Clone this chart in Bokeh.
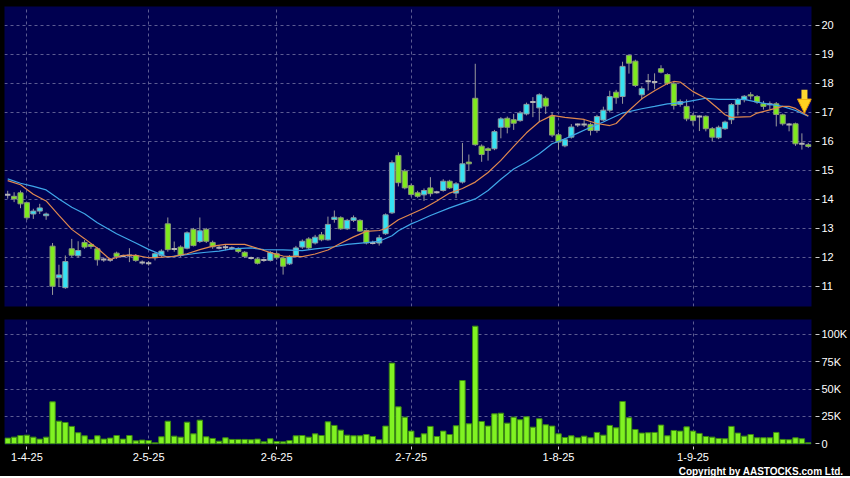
import numpy as np
from bokeh.plotting import figure
from bokeh.layouts import column
from bokeh.models import FixedTicker, Title, Arrow, NormalHead, Range1d
from bokeh.embed import file_html
from bokeh.resources import INLINE

# ---------------- data ----------------
month_ticks = [3, 22, 42, 63, 86, 107]
month_labels = ["1-4-25", "2-5-25", "2-6-25", "2-7-25", "1-8-25", "1-9-25"]
price_ticks = [11, 12, 13, 14, 15, 16, 17, 18, 19, 20]
vol_ticks = [0, 25, 50, 75, 100]
vol_tick_labels = ["0", "25K", "50K", "75K", "100K"]

opens = [14.16, 14.11, 14.23, 13.89, 13.50, 13.60, 13.44, 12.39, 11.30, 10.96,
         12.30, 12.06, 12.52, 12.45, 12.30, 11.93, 11.92, 12.15, 12.05, 12.07,
         12.07, 11.83, 11.80, 11.99, 12.07, 13.16, 12.29, 12.36, 12.32, 12.97,
         12.55, 12.97, 12.52, 12.34, 12.35, 12.32, 12.29, 12.18, 11.98, 11.95,
         11.91, 11.90, 12.13, 11.98, 11.78, 12.06, 12.36, 12.64, 12.50, 12.78,
         12.61, 13.31, 13.37, 12.99, 13.28, 13.28, 12.93, 12.50, 12.50, 12.82,
         13.54, 15.52, 14.98, 14.48, 14.23, 14.16, 14.40, 14.25, 14.31, 14.63,
         14.22, 14.60, 15.29, 17.49, 15.84, 15.75, 15.75, 16.49, 16.80, 16.75,
         16.72, 16.95, 17.36, 17.16, 17.49, 16.88, 16.23, 15.85, 16.15, 16.59,
         16.59, 16.59, 16.38, 16.74, 17.08, 17.70, 17.55, 18.97, 18.77, 17.61,
         18.08, 18.05, 18.51, 18.31, 17.99, 17.28, 17.21, 16.90, 16.86, 16.87,
         16.44, 16.13, 16.44, 16.75, 17.28, 17.44, 17.61, 17.55, 17.30, 17.28,
         17.30, 16.92, 16.59, 16.61, 15.92, 15.89]
highs = [14.30, 14.25, 14.31, 13.92, 13.68, 13.85, 13.55, 12.50, 11.75, 12.07,
         12.64, 12.56, 12.60, 12.50, 12.35, 12.00, 11.98, 12.20, 12.10, 12.32,
         12.12, 11.90, 11.88, 12.18, 12.28, 13.38, 12.55, 12.42, 12.90, 13.02,
         13.38, 13.02, 12.58, 12.42, 12.45, 12.38, 12.35, 12.22, 12.03, 12.00,
         11.97, 12.22, 12.20, 12.02, 12.08, 12.40, 12.62, 12.70, 12.78, 12.88,
         13.41, 13.62, 13.42, 13.33, 13.45, 13.32, 12.97, 12.58, 12.78, 13.52,
         15.35, 15.63, 15.05, 14.55, 14.30, 14.38, 14.77, 14.30, 14.70, 14.68,
         14.60, 15.95, 15.55, 18.68, 15.90, 15.80, 16.40, 16.84, 16.86, 16.95,
         17.05, 17.34, 17.53, 17.66, 17.55, 17.01, 16.30, 16.12, 16.60, 16.62,
         16.75, 16.65, 16.92, 17.20, 17.75, 17.78, 18.75, 19.00, 18.82, 17.90,
         18.33, 18.35, 18.63, 18.35, 18.05, 17.45, 17.45, 16.98, 16.90, 16.90,
         16.50, 16.55, 16.72, 17.32, 17.50, 17.60, 17.70, 17.60, 17.40, 17.38,
         17.36, 16.96, 16.64, 16.65, 16.28, 15.95]
lows = [14.03, 13.91, 13.70, 13.30, 13.33, 13.50, 13.30, 10.71, 10.98, 10.92,
        12.02, 12.00, 12.30, 12.30, 11.72, 11.85, 11.85, 11.95, 12.00, 11.84,
        11.85, 11.75, 11.72, 11.90, 12.02, 12.20, 12.20, 12.02, 12.28, 12.38,
        12.50, 12.50, 12.30, 12.28, 12.25, 12.26, 12.15, 11.98, 11.93, 11.76,
        11.85, 11.86, 11.92, 11.41, 11.74, 12.00, 12.30, 12.28, 12.45, 12.56,
        12.58, 13.20, 12.95, 12.95, 13.22, 12.88, 12.45, 12.45, 12.41, 12.78,
        13.50, 14.45, 14.35, 14.10, 14.06, 13.95, 14.10, 14.20, 14.27, 14.36,
        14.05, 14.55, 15.00, 15.85, 15.30, 15.34, 15.70, 16.11, 16.28, 16.40,
        16.68, 16.90, 16.84, 16.67, 16.95, 16.15, 15.72, 15.80, 16.10, 16.50,
        16.50, 16.21, 16.30, 16.70, 17.00, 17.30, 17.30, 18.34, 17.88, 17.45,
        17.76, 17.80, 18.35, 17.95, 17.10, 17.20, 16.70, 16.55, 16.36, 16.35,
        16.00, 16.08, 16.40, 16.60, 16.90, 17.35, 17.45, 17.30, 17.10, 17.10,
        16.52, 16.55, 16.35, 15.85, 15.72, 15.78]
closes = [14.16, 14.02, 13.85, 13.37, 13.60, 13.71, 13.50, 11.01, 11.40, 11.86,
          12.08, 12.24, 12.36, 12.38, 11.92, 11.93, 11.92, 12.03, 12.05, 12.07,
          11.90, 11.83, 11.80, 12.13, 12.22, 12.27, 12.29, 12.07, 12.85, 12.41,
          12.92, 12.56, 12.37, 12.34, 12.35, 12.32, 12.21, 12.03, 11.98, 11.80,
          11.91, 12.17, 11.99, 11.70, 12.03, 12.33, 12.56, 12.33, 12.70, 12.61,
          13.14, 13.39, 12.99, 13.28, 13.37, 12.91, 12.50, 12.50, 12.68, 13.47,
          15.27, 14.58, 14.40, 14.17, 14.11, 14.31, 14.20, 14.25, 14.63, 14.40,
          14.54, 15.23, 15.23, 15.89, 15.55, 15.69, 16.34, 16.78, 16.49, 16.63,
          16.98, 17.28, 17.36, 17.61, 17.22, 16.22, 15.98, 16.06, 16.50, 16.59,
          16.59, 16.38, 16.86, 17.08, 17.55, 17.51, 18.59, 18.70, 17.93, 17.82,
          18.08, 18.05, 18.39, 18.01, 17.24, 17.38, 16.78, 16.72, 16.86, 16.44,
          16.15, 16.49, 16.67, 17.27, 17.45, 17.56, 17.57, 17.36, 17.21, 17.28,
          16.93, 16.61, 16.59, 15.92, 15.92, 15.83]
volume_k = [5.2, 6.1, 7.6, 7.9, 6.1, 4.3, 6.1, 38.4, 20.7, 19.5,
            15.9, 10.1, 7.3, 3.7, 7.3, 4.3, 5.2, 7.6, 4.3, 7.6,
            2.7, 3.4, 3.0, 0.9, 6.4, 20.7, 7.0, 6.1, 19.8, 9.1,
            21.6, 6.4, 4.9, 2.4, 5.5, 4.0, 4.0, 4.0, 3.7, 4.3,
            1.8, 4.6, 2.1, 1.8, 3.0, 7.3, 7.6, 6.1, 9.1, 7.6,
            20.1, 16.8, 12.5, 7.9, 7.3, 7.3, 8.5, 6.7, 3.7, 16.2,
            73.8, 33.8, 24.4, 11.6, 5.8, 9.1, 15.9, 6.7, 11.6, 8.5,
            16.5, 57.9, 18.3, 107.6, 20.4, 16.2, 27.4, 28.0, 18.9, 24.4,
            22.0, 24.7, 15.2, 22.9, 17.4, 16.2, 9.1, 5.8, 7.3, 5.5,
            7.0, 5.5, 10.4, 7.9, 16.8, 14.6, 38.7, 23.8, 13.1, 9.8,
            10.1, 10.4, 17.1, 7.3, 12.2, 11.6, 15.5, 11.6, 9.5, 6.7,
            6.1, 4.9, 4.6, 15.9, 9.8, 7.0, 8.5, 5.5, 5.5, 5.5,
            10.4, 4.0, 3.7, 5.5, 4.6, 0.9]

# moving averages (index, value)
ma_short_idx = [0, 2, 4, 6, 8, 10, 12, 14, 16, 18, 20, 22, 24, 26, 28, 30, 32, 34, 37, 39,
                41, 43, 46, 48, 50, 52, 54, 56, 58, 59, 61, 63, 65, 67, 69, 71, 73, 75, 77, 79,
                81, 83, 85, 87, 90, 92, 94, 95, 97, 99, 101, 103, 104, 105, 107, 109, 111, 112, 113, 116,
                117, 119, 121, 122, 123, 125]
ma_short = [14.65, 14.51, 14.18, 13.95, 13.45, 12.97, 12.65, 12.32, 11.93, 12.07, 12.07, 11.99, 12.01, 12.04, 12.13, 12.27, 12.39, 12.45, 12.45, 12.32,
            12.17, 12.05, 12.03, 12.12, 12.26, 12.49, 12.71, 12.90, 12.93, 12.99, 13.30, 13.50, 13.70, 13.95, 14.22, 14.38, 14.60, 14.93, 15.35, 15.83,
            16.30, 16.68, 16.90, 16.83, 16.76, 16.62, 16.55, 16.62, 17.07, 17.47, 17.75, 18.00, 18.07, 18.05, 17.72, 17.49, 17.12, 16.92, 16.83, 16.86,
            16.98, 17.09, 17.21, 17.21, 17.14, 16.88]
ma_long_idx = [0, 2, 4, 6, 8, 10, 12, 14, 17, 20, 22, 25, 27, 29, 31, 33, 35, 38, 40, 43,
               46, 48, 51, 53, 56, 58, 60, 61, 63, 64, 66, 69, 73, 75, 77, 79, 81, 83, 85, 87,
               89, 91, 93, 96, 99, 101, 103, 105, 107, 109, 111, 115, 117, 119, 121, 123, 125]
ma_long = [14.71, 14.56, 14.45, 14.33, 14.02, 13.73, 13.51, 13.20, 12.82, 12.50, 12.28, 12.01, 12.07, 12.13, 12.18, 12.22, 12.30, 12.33, 12.27, 12.26,
           12.24, 12.30, 12.37, 12.45, 12.51, 12.56, 12.75, 12.92, 13.16, 13.25, 13.45, 13.71, 14.02, 14.31, 14.70, 15.05, 15.29, 15.58, 15.92, 16.09,
           16.29, 16.49, 16.67, 16.98, 17.13, 17.21, 17.30, 17.33, 17.41, 17.49, 17.45, 17.45, 17.36, 17.28, 17.21, 17.07, 16.87]

# ---------------- styling ----------------
BG = "#000050"
GRID = "#5c5c92"
UP = "#35e2f2"
DOWN = "#7eea1e"
TXT = "#ffffff"
FONT = "Liberation Sans"
W = 850

n = len(closes)
idx = np.arange(n)
o = np.array(opens)
h = np.array(highs)
l = np.array(lows)
c = np.array(closes)
up = c > o
dn = c < o
flat = c == o

x_range = Range1d(-0.5, n - 0.5)


def style_axis(ax):
    ax.axis_line_color = None
    ax.major_tick_line_color = "#d0d0d0"
    ax.minor_tick_line_color = None
    ax.major_label_text_color = TXT
    ax.major_label_text_font = FONT
    ax.major_label_text_font_size = "11px"


# ---------------- price panel ----------------
p = figure(width=W, height=319, x_range=x_range, y_range=Range1d(10.31, 20.655),
           output_backend="svg", toolbar_location=None,
           y_axis_location="right", min_border_left=4, min_border_top=6,
           min_border_bottom=13, min_border_right=37)
p.xaxis.visible = False
p.background_fill_color = BG
p.border_fill_color = "black"
p.outline_line_color = None
p.ygrid.ticker = FixedTicker(ticks=price_ticks)
p.xgrid.ticker = FixedTicker(ticks=month_ticks)
for g in (p.xgrid, p.ygrid):
    g.grid_line_color = GRID
    g.grid_line_dash = "3 3"
ya = p.yaxis[0]
style_axis(ya)
ya.ticker = FixedTicker(ticks=price_ticks)
ya.major_tick_in = -4
ya.major_tick_out = 8
ya.major_label_standoff = 2

p.segment(idx, h, idx, l, line_color="#9a9a9a", line_width=1)
p.vbar(x=idx[up], bottom=o[up], top=c[up], width=0.8, fill_color=UP, line_color="#8a9aa0", line_width=1)
p.vbar(x=idx[dn], bottom=c[dn], top=o[dn], width=0.8, fill_color=DOWN, line_color="#8a9a78", line_width=1)
p.segment(idx[flat] - 0.42, o[flat], idx[flat] + 0.42, o[flat], line_color="#b4b4b4", line_width=2)

p.line(ma_long_idx, ma_long, line_color="#3fa6e8", line_width=1.2)
p.line(ma_short_idx, ma_short, line_color="#e0884e", line_width=1.2)

# yellow marker arrow pointing at the latest moving-average value
arrow_x = n - 1.6
arrow_tip = ma_short[-1] + 0.1
p.add_layout(Arrow(end=NormalHead(size=14, fill_color="#ffd020", line_color="#e89a00", line_width=1),
                   x_start=arrow_x, y_start=arrow_tip + 0.8, x_end=arrow_x, y_end=arrow_tip,
                   line_color="#ffd630", line_width=6))

# ---------------- volume panel ----------------
v = figure(width=W, height=157, x_range=x_range, y_range=Range1d(-0.64, 113.7),
           output_backend="svg", toolbar_location=None, y_axis_location="right",
           min_border_left=4, min_border_top=0, min_border_bottom=0, min_border_right=37)
v.background_fill_color = BG
v.border_fill_color = "black"
v.outline_line_color = None
v.ygrid.ticker = FixedTicker(ticks=vol_ticks[1:])
v.xgrid.ticker = FixedTicker(ticks=month_ticks)
for g in (v.xgrid, v.ygrid):
    g.grid_line_color = GRID
    g.grid_line_dash = "3 3"
for ax in (v.xaxis[0], v.yaxis[0]):
    style_axis(ax)
v.yaxis[0].major_tick_in = -4
v.yaxis[0].major_tick_out = 8
v.yaxis[0].major_label_standoff = 2
v.xaxis[0].major_tick_in = -2
v.xaxis[0].major_tick_out = 5
v.xaxis[0].major_label_standoff = 3
v.yaxis[0].ticker = FixedTicker(ticks=vol_ticks)
v.yaxis[0].major_label_overrides = {t: s for t, s in zip(vol_ticks, vol_tick_labels)}
v.xaxis[0].ticker = FixedTicker(ticks=month_ticks)
v.xaxis[0].major_label_overrides = {t: s for t, s in zip(month_ticks, month_labels)}

v.vbar(x=idx, bottom=0, top=volume_k, width=0.85, fill_color="#80f222", line_color="#3c8a12", line_width=1)

v.add_layout(Title(text="Copyright by AASTOCKS.com Ltd.", align="right", text_color=TXT,
                   text_font=FONT, text_font_size="10px", text_font_style="bold",
                   standoff=0, offset=-32), "below")

layout = column(p, v, spacing=0, styles={"background-color": "black"})
open("out.html", "w").write(file_html(layout, INLINE))
